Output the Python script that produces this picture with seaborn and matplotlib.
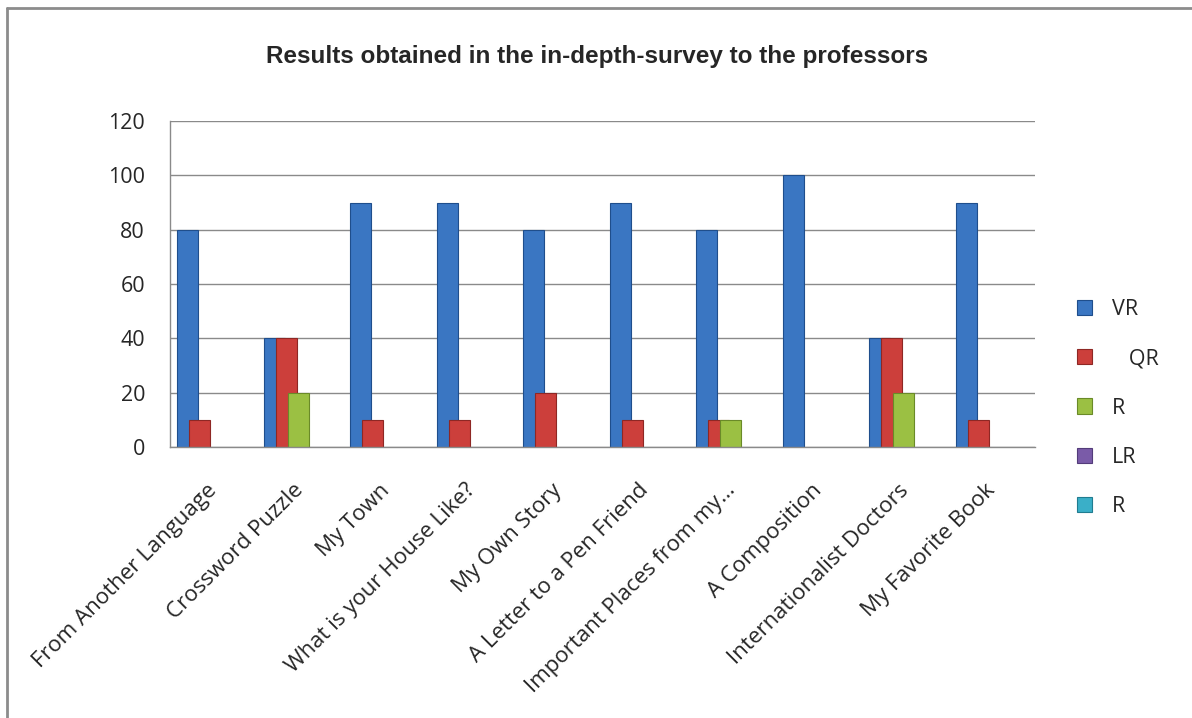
import matplotlib
matplotlib.use("Agg")
import matplotlib.pyplot as plt
from matplotlib.lines import Line2D
from matplotlib.patches import Patch
import seaborn as sns
import pandas as pd
import numpy as np

categories = ["From Another Language", "Crossword Puzzle", "My Town",
              "What is your House Like?", "My Own Story", "A Letter to a Pen Friend",
              "Important Places from my\u2026", "A Composition",
              "Internationalist Doctors", "My Favorite Book"]
series_keys = ["VR", "QR", "R", "LR", "R2"]
legend_labels = ["VR", "   QR", "R", "LR", "R"]
vr = [80, 40, 90, 90, 80, 90, 80, 100, 40, 90]
qr = [10, 40, 10, 10, 20, 10, 10, 0, 40, 10]
r = [0, 20, 0, 0, 0, 0, 10, 0, 20, 0]
lr = [0, 0, 0, 0, 0, 0, 0, 0, 0, 0]
r2 = [0, 0, 0, 0, 0, 0, 0, 0, 0, 0]
yticks = [0, 20, 40, 60, 80, 100, 120]
title = "Results obtained in the in-depth-survey to the professors"

colors = ["#3A76C2", "#CC3F3B", "#9BC043", "#7A5BA8", "#3AAFC8"]
edges = ["#1F4E8C", "#8E2724", "#6A8A28", "#533C7A", "#207C90"]

rows = []
for key, vals in zip(series_keys, [vr, qr, r, lr, r2]):
    for c, v in zip(categories, vals):
        rows.append({"category": c, "series": key, "value": v})
df = pd.DataFrame(rows)

sns.set_theme(style="white")
plt.rcParams["font.family"] = ["Open Sans", "DejaVu Sans"]

fig = plt.figure(figsize=(11.92, 7.18), dpi=100)
W, H = 1192, 718
ax = fig.add_axes([170 / W, 1 - 447 / H, (1035 - 170) / W, (447 - 121) / H])

step = 0.139
bw = 0.243
sns.barplot(data=df, x="category", y="value", hue="series", hue_order=series_keys,
            order=categories, palette=colors, width=5 * step, dodge=True,
            saturation=1, legend=False, ax=ax, errorbar=None)

shift = -0.0715
for ci, cont in enumerate(ax.containers):
    for p in cont.patches:
        p.set_x(p.get_x() + shift)
        p.set_width(bw)
        if p.get_height() <= 0:
            p.set_linewidth(0)
        else:
            p.set_edgecolor(edges[ci])
            p.set_linewidth(0.8)

ax.set_xlim(-0.5, 9.5)
ax.set_ylim(0, 120)
ax.set_yticks(yticks)
ax.set_yticklabels([str(t) for t in yticks], fontsize=15.5)
ax.tick_params(axis="y", pad=18, length=0)
ax.tick_params(axis="x", length=0, pad=29)
ax.set_xticks(range(len(categories)))
ax.set_xticklabels(categories, rotation=45, ha="right", va="center",
                   rotation_mode="anchor", fontsize=16)
ax.yaxis.grid(True, color="#8a8a8a", linewidth=1.0)
ax.set_axisbelow(True)
for s in ["top", "right"]:
    ax.spines[s].set_visible(False)
for s in ["left", "bottom"]:
    ax.spines[s].set_color("#8a8a8a")
    ax.spines[s].set_linewidth(1.0)
ax.set_xlabel("")
ax.set_ylabel("")

fig.text(597 / W, 1 - 56 / H, title, ha="center", va="center", fontsize=17.5,
         fontweight="bold", family="Liberation Sans")

handles = [Patch(facecolor=c, edgecolor=e, linewidth=0.8) for c, e in zip(colors, edges)]
fig.legend(handles, legend_labels, loc="center left",
           bbox_to_anchor=(1058 / W, 1 - 408 / H), frameon=False,
           fontsize=15.5, handlelength=0.7, handleheight=0.7,
           labelspacing=1.32, handletextpad=0.9)

fig.add_artist(Line2D([7 / W, 1.0], [1 - 8 / H, 1 - 8 / H], transform=fig.transFigure,
                      color="#8c8c8c", linewidth=2))
fig.add_artist(Line2D([7 / W, 7 / W], [0, 1 - 8 / H], transform=fig.transFigure,
                      color="#8c8c8c", linewidth=2))

fig.savefig("out.png", dpi=100)
